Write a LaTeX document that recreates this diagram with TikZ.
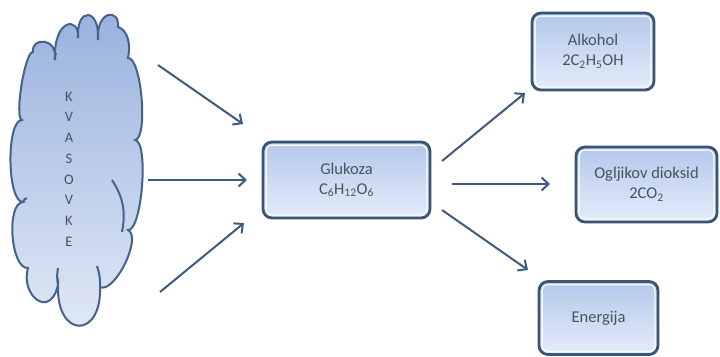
\documentclass[tikz,border=0pt]{standalone}
\usepackage{fontspec}
\setmainfont{Carlito}
\usetikzlibrary{arrows.meta}
\definecolor{boxline}{HTML}{3A5474}
\definecolor{boxtop}{HTML}{B4C8EB}
\definecolor{boxbot}{HTML}{E4ECF9}
\definecolor{txt}{HTML}{4A5262}
\definecolor{arr}{HTML}{3F5A7E}
\definecolor{cloudtop}{HTML}{98B1DD}
\definecolor{cloudbot}{HTML}{E2EAF6}
\definecolor{cloudline}{HTML}{45628C}
\tikzset{
  procbox/.style={draw=boxline, line width=2.8pt, rounded corners=9pt,
    top color=boxtop, bottom color=boxbot, text=txt, align=center,
    font=\fontsize{16.5}{20}\selectfont, inner sep=0pt},
  flow/.style={draw=arr, line width=2pt,
    -{Straight Barb[length=7pt,width=13pt,line width=2pt]}},
  innerline/.style={draw=white, line width=1.3pt, rounded corners=6pt, opacity=0.85},
  cloudfill/.style={draw=cloudline, line width=2pt, top color=cloudtop, bottom color=cloudbot},
  cloudarc/.style={draw=cloudline, line width=2pt},
  puff/.style={bend left=90, looseness=#1},
}
\begin{document}
\begin{tikzpicture}[x=1pt,y=-1pt]
\useasboundingbox (0,0) rectangle (720,356);
\fill[white] (0,0) rectangle (720,356);
% cloud
\path[cloudfill] (33,52)
  .. controls (31,37) and (58,37) .. (55,60)
  .. controls (53,18) and (80,16) .. (78,38)
  .. controls (76,7) and (100,7) .. (98,40)
  .. controls (96,10) and (120,8) .. (118,27)
  .. controls (128,30) and (131,45) .. (128,58)
  to[puff=0.42] (135,140)
  to[puff=0.40] (128,230)
  to[puff=0.65] (100,287)
  .. controls (102,339) and (56,339) .. (58,285)
  .. controls (50,320) and (20,295) .. (28,268)
  to[puff=0.67] (23,202)
  to[puff=0.5] (22,120)
  to[puff=0.3] cycle;
\draw[cloudarc] (112,180) to[bend left=22] (122,232);
\draw[cloudarc] (97,266) to[bend left=10] (100,287);
\draw[cloudarc] (58,268) to[bend right=10] (58,285);
\draw[cloudarc] (23,202) to[bend left=30] (27,198);
\draw[cloudarc] (55,60) to[bend left=15] (56,53);
\node[text=txt, align=center, font=\fontsize{14.5}{20.7}\selectfont] (kv) at (69,169)
  {K\\V\\A\\S\\O\\V\\K\\E};
% boxes
\node[procbox, minimum width=167pt, minimum height=76pt] (gluc) at (346.5,180)
  {Glukoza\\C\textsubscript{6}H\textsubscript{12}O\textsubscript{6}};
\node[procbox, minimum width=122pt, minimum height=77pt] (alk) at (593,51.5)
  {Alkohol\\2C\textsubscript{2}H\textsubscript{5}OH};
\node[procbox, minimum width=141pt, minimum height=75pt] (co2) at (646.5,184.5)
  {Ogljikov dioksid\\2CO\textsubscript{2}};
\node[procbox, minimum width=119pt, minimum height=73pt] (ene) at (598.5,318)
  {Energija};
\foreach \n in {gluc,alk,co2,ene}
  \draw[innerline] ([shift={(4.5pt,-4.5pt)}]\n.north west) rectangle ([shift={(-4.5pt,4.5pt)}]\n.south east);
% arrow end points
\coordinate (i1s) at (158,65);  \coordinate (i1e) at (243,124);
\coordinate (i2s) at (148,180); \coordinate (i2e) at (247,180);
\coordinate (i3s) at (160,292); \coordinate (i3e) at (244,223);
\coordinate (o1s) at (442,161); \coordinate (o1e) at (525,93);
\coordinate (o2s) at (452,184); \coordinate (o2e) at (550,184);
\coordinate (o3s) at (442,210); \coordinate (o3e) at (528,270);
\draw[flow] (i1s) -- (i1e);
\draw[flow] (i2s) -- (i2e);
\draw[flow] (i3s) -- (i3e);
\draw[flow] (o1s) -- (o1e);
\draw[flow] (o2s) -- (o2e);
\draw[flow] (o3s) -- (o3e);
\end{tikzpicture}
\end{document}
